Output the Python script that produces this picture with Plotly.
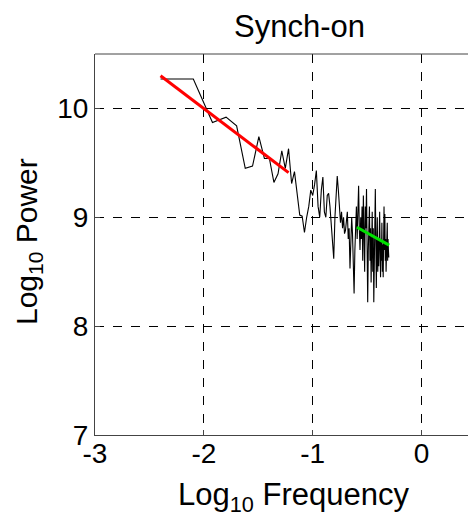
import numpy as np
import plotly.graph_objects as go

# Frequencies (Hz) of the spectrum bins
freq = [0.004, 0.008, 0.012, 0.016, 0.020, 0.024, 0.028, 0.032, 0.036, 0.040,
        0.044, 0.048, 0.052, 0.056, 0.060, 0.064, 0.068, 0.072, 0.076, 0.080,
        0.084, 0.088, 0.092, 0.096, 0.100, 0.104, 0.108, 0.112, 0.116, 0.120,
        0.124, 0.128, 0.132, 0.136, 0.140, 0.144, 0.148, 0.152, 0.156, 0.160,
        0.164, 0.168, 0.172, 0.176, 0.180, 0.184, 0.188, 0.192, 0.196, 0.200,
        0.204, 0.208, 0.212, 0.216, 0.220, 0.224, 0.228, 0.232, 0.236, 0.240,
        0.244, 0.248, 0.252, 0.256, 0.260, 0.264, 0.268, 0.272, 0.276, 0.280,
        0.284, 0.288, 0.292, 0.296, 0.300, 0.304, 0.308, 0.312, 0.316, 0.320,
        0.324, 0.328, 0.332, 0.336, 0.340, 0.344, 0.348, 0.352, 0.356, 0.360,
        0.364, 0.368, 0.372, 0.376, 0.380, 0.384, 0.388, 0.392, 0.396, 0.400,
        0.404, 0.408, 0.412, 0.416, 0.420, 0.424, 0.428, 0.432, 0.436, 0.440,
        0.444, 0.448, 0.452, 0.456, 0.460, 0.464, 0.468, 0.472, 0.476, 0.480,
        0.484, 0.488, 0.492, 0.496, 0.500]

# Log10 power
log_power = [10.27, 10.27, 9.87, 9.92, 9.84, 9.45, 9.47, 9.74, 9.54, 9.54,
             9.32, 9.40, 9.61, 9.45, 9.63, 9.31, 9.42, 9.20, 9.02, 9.01,
             8.86, 9.00, 9.10, 9.25, 9.20, 9.30, 9.43, 9.10, 9.00, 9.25,
             9.37, 9.05, 9.00, 9.20, 9.22, 9.10, 8.91, 8.75, 8.62, 9.00,
             9.20, 9.38, 9.25, 9.10, 8.95, 9.05, 8.90, 9.00, 8.85, 8.88,
             9.00, 9.05, 8.80, 8.90, 8.53, 8.75, 9.00, 8.85, 8.60, 8.30,
             8.70, 8.95, 9.10, 8.80, 9.15, 9.29, 8.90, 8.70, 9.00, 8.80,
             9.10, 8.60, 9.20, 8.85, 8.50, 9.10, 8.90, 9.26, 8.40, 8.22,
             8.70, 9.00, 9.10, 8.60, 8.90, 8.40, 8.75, 9.05, 8.50, 8.90,
             8.22, 8.60, 9.00, 9.26, 8.80, 8.35, 8.70, 9.00, 8.50, 8.80,
             8.55, 8.90, 9.05, 8.70, 8.45, 8.80, 8.60, 8.95, 8.50, 8.75,
             8.45, 8.85, 9.10, 8.70, 9.03, 8.60, 8.80, 8.50, 8.90, 8.70,
             8.95, 8.60, 8.80, 8.70, 8.63]

# Linear fits (log10 frequency, log10 power)
red_fit_x = [-2.398, -1.222]
red_fit_y = [10.30, 9.41]
green_fit_x = [-0.594, -0.298]
green_fit_y = [8.909, 8.744]

x_ticks = [-3, -2, -1, 0]
y_ticks = [7, 8, 9, 10]

FONT = "Arial, Liberation Sans, sans-serif"
OFF = 8                      # page body margin of the html document
WW, WH = 476, 517            # window size
L, T, B = 95, 54, 435        # plot-area edges in window pixels
PW, PH = WW - L, B - T

fig = go.Figure()
fig.add_trace(go.Scatter(x=np.log10(freq), y=log_power, mode="lines",
                         line=dict(color="black", width=1.1), showlegend=False))
fig.add_trace(go.Scatter(x=red_fit_x, y=red_fit_y, mode="lines",
                         line=dict(color="#ff0000", width=3), showlegend=False))
fig.add_trace(go.Scatter(x=green_fit_x, y=green_fit_y, mode="lines",
                         line=dict(color="#00e000", width=3), showlegend=False))

axis_common = dict(showgrid=True, gridcolor="black", griddash="dash", gridwidth=1,
                   zeroline=False, showline=True, linecolor="#444", linewidth=1,
                   ticks="inside", ticklen=5, tickcolor="#444",
                   tickfont=dict(size=28), automargin=False)

SUB = "<sub>10</sub>"

fig.update_layout(
    width=WW - OFF, height=WH - OFF,
    margin=dict(l=L - OFF, r=0, t=T - OFF, b=WH - B),
    paper_bgcolor="white", plot_bgcolor="white",
    font=dict(family=FONT, color="black", size=28),
    xaxis=dict(range=[-3, 0.5], tickvals=x_ticks, ticktext=[str(v) for v in x_ticks],
               ticklabelstandoff=-7, **axis_common),
    yaxis=dict(range=[7, 10.5], tickvals=y_ticks, ticktext=[str(v) for v in y_ticks],
               ticklabelstandoff=0, **axis_common),
    shapes=[dict(type="line", xref="paper", yref="paper", x0=0, x1=1, y0=1, y1=1,
                 line=dict(color="#444", width=1))],
    annotations=[
        dict(text="Synch-on", xref="paper", yref="paper",
             x=(299 - L) / PW, y=1 + (T - 26) / PH, xanchor="center", yanchor="middle",
             showarrow=False, font=dict(size=31)),
        dict(text="Log" + SUB + " Frequency", xref="paper", yref="paper",
             x=(293 - L) / PW, y=-(497 - B) / PH, xanchor="center", yanchor="middle",
             showarrow=False, font=dict(size=31)),
        dict(text="Log" + SUB + " Power", xref="paper", yref="paper", textangle=-90,
             x=(28 - L) / PW, y=(B - 242) / PH, xanchor="center", yanchor="middle",
             showarrow=False, font=dict(size=30)),
    ],
)

fig.write_html("out.html")
